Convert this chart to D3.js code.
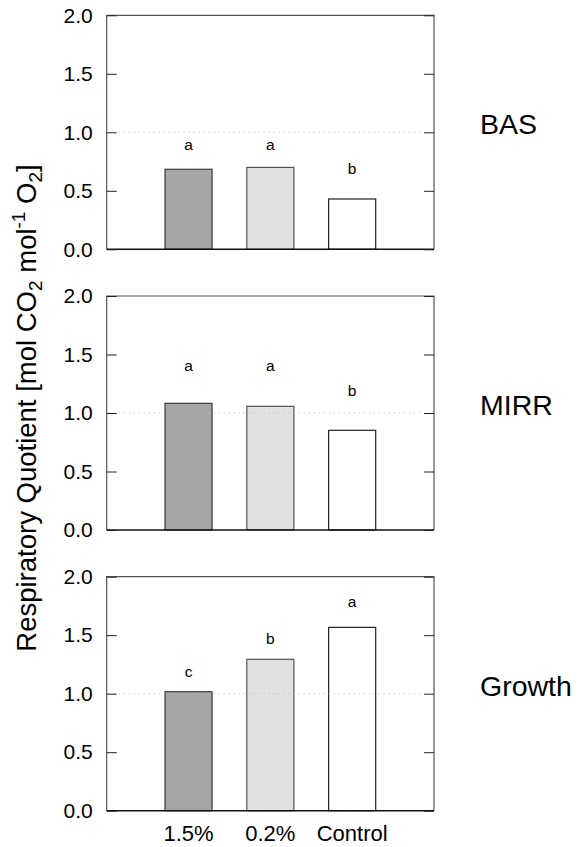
<!DOCTYPE html>
<html>
<head>
<meta charset="utf-8">
<script src="https://cdn.jsdelivr.net/npm/d3@7"></script>
<style>
    body { margin: 0; background: #fff; }
    svg { display: block; font-family: "Liberation Sans", Arial, Helvetica, sans-serif; }
</style>
</head>
<body>
<svg id="chart" width="578" height="847"></svg>
<script>
// treatments on the x axis
const categories = ["1.5%", "0.2%", "Control"];
// one panel per phase
const phases = ["BAS", "MIRR", "Growth"];
// respiratory quotient, one row per phase, in category order
const rqValues = [
    [0.684, 0.700, 0.430],
    [1.083, 1.057, 0.852],
    [1.017, 1.294, 1.567]
];
// significance letters and the level they sit at (above the hidden error bars)
const sigLetters = [
    ["a", "a", "b"],
    ["a", "a", "b"],
    ["c", "b", "a"]
];
const sigLevels = [
    [0.845, 0.845, 0.64],
    [1.356, 1.356, 1.145],
    [1.14, 1.426, 1.738]
];
const yTicks = [0, 0.5, 1.0, 1.5, 2.0];
const barFills = ["#a6a6a6", "#e0e0e0", "#ffffff"];
const barStrokes = ["#3a3a3a", "#555555", "#222222"];

const svg = d3.select("#chart");

let left = 106.7, right = 434;
let panelH = 234, panelTops = [15.3, 296, 576.7];

let x = d3.scalePoint().domain(categories).range([left, right]).padding(1);
let barW = x.step() * 0.575;

phases.forEach((phase, i) => {
    let top = panelTops[i];
    let y = d3.scaleLinear().domain([0, 2]).range([top + panelH, top]);
    let g = svg.append("g");

    let bars = categories.map((c, j) => ({cat: c, value: rqValues[i][j], j: j}));

    g.selectAll("rect.bar")
        .data(bars)
        .enter()
        .append("rect")
        .attr("class", "bar")
        .attr("x", d => x(d.cat) - barW / 2)
        .attr("y", d => y(d.value))
        .attr("width", barW)
        .attr("height", d => y(0) - y(d.value))
        .attr("fill", d => barFills[d.j])
        .attr("stroke", d => barStrokes[d.j])
        .attr("stroke-width", 1.2);

    // dotted reference line at RQ = 1
    g.append("line")
        .attr("x1", left + 2).attr("x2", right - 12)
        .attr("y1", y(1)).attr("y2", y(1))
        .attr("stroke", "#bdbdbd")
        .attr("stroke-width", 1)
        .attr("stroke-dasharray", "1,4");

    // frame
    g.append("path")
        .attr("d", `M${left},${y(0)}V${top}H${right}V${y(0)}`)
        .attr("fill", "none")
        .attr("stroke", "#555")
        .attr("stroke-width", 1.2);
    g.append("line")
        .attr("x1", left).attr("x2", right)
        .attr("y1", y(0)).attr("y2", y(0))
        .attr("stroke", "#111")
        .attr("stroke-width", 1.5);

    let yAxis = g.append("g")
        .attr("transform", `translate(${left},0)`)
        .call(d3.axisLeft(y).tickValues(yTicks).tickFormat(d3.format(".1f"))
            .tickSizeInner(-10).tickSizeOuter(0).tickPadding(14));
    yAxis.select(".domain").remove();
    yAxis.selectAll(".tick line").attr("stroke", "#222");
    yAxis.selectAll(".tick text")
        .attr("font-size", 21)
        .attr("font-family", "Liberation Sans, Arial, sans-serif")
        .attr("fill", "#000");

    let yAxisR = g.append("g")
        .attr("transform", `translate(${right},0)`)
        .call(d3.axisRight(y).tickValues(yTicks).tickFormat("")
            .tickSizeInner(-10).tickSizeOuter(0));
    yAxisR.select(".domain").remove();
    yAxisR.selectAll(".tick line").attr("stroke", "#222");

    g.selectAll("text.sig")
        .data(bars)
        .enter()
        .append("text")
        .attr("class", "sig")
        .attr("x", d => x(d.cat))
        .attr("y", d => y(sigLevels[i][d.j]))
        .attr("text-anchor", "middle")
        .attr("font-size", 15.5)
        .text(d => sigLetters[i][d.j]);

    g.append("text")
        .attr("x", 480)
        .attr("y", y(1) + 2)
        .attr("font-size", 28.5)
        .text(phase);

    if (i === phases.length - 1) {
        g.selectAll("text.cat")
            .data(categories)
            .enter()
            .append("text")
            .attr("class", "cat")
            .attr("x", d => x(d))
            .attr("y", y(0) + 30)
            .attr("text-anchor", "middle")
            .attr("font-size", 22)
            .text(d => d);
    }
});

// y axis title
let title = svg.append("text")
    .attr("transform", "translate(36,408) rotate(-90)")
    .attr("text-anchor", "middle")
    .attr("font-size", 27.5);
title.append("tspan").text("Respiratory Quotient [mol CO");
title.append("tspan").attr("font-size", 19).attr("dy", 6).text("2");
title.append("tspan").attr("dy", -6).text(" mol");
title.append("tspan").attr("font-size", 19).attr("dy", -11).text("-1");
title.append("tspan").attr("dy", 11).text(" O");
title.append("tspan").attr("font-size", 19).attr("dy", 6).text("2");
title.append("tspan").attr("dy", -6).text("]");
</script>
</body>
</html>
